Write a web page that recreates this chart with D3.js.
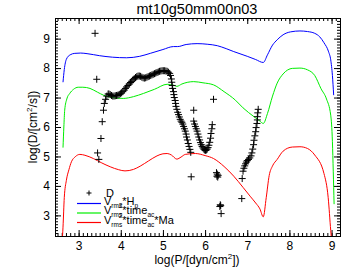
<!DOCTYPE html>
<html>
<head>
<meta charset="utf-8">
<script src="https://cdn.jsdelivr.net/npm/d3@7"></script>
<style>
  body { margin: 0; background: #fff; }
  svg { display: block; font-family: "Liberation Sans", Arial, Helvetica, sans-serif; }
  .tick text { font-size: 12px; fill: #000; }
  .tick line { stroke: #000; }
</style>
</head>
<body>
<svg id="chart" width="346" height="275"></svg>
<script>
// values: [log P, log D]
const vH = [[2.63,7.52],[2.66,7.95],[2.71,8.30],[2.80,8.45],[2.91,8.50],[3.05,8.51],[3.20,8.49],[3.50,8.42],
  [3.80,8.37],[4.14,8.35],[4.45,8.40],[4.70,8.50],[5.00,8.63],[5.25,8.73],[5.35,8.73],[5.55,8.80],[5.81,8.83],
  [6.05,8.81],[6.29,8.76],[6.50,8.66],[6.68,8.56],[7.00,8.40],[7.20,8.29],[7.38,8.19],[7.48,8.45],[7.60,8.78],
  [7.71,8.96],[7.85,9.13],[8.03,9.23],[8.25,9.26],[8.43,9.24],[8.60,9.18],[8.72,9.06],[8.82,8.86],[8.93,8.55],
  [8.98,8.28],[9.02,7.75],[9.05,7.08]];

const vTime = [[2.63,5.30],[2.65,6.00],[2.67,6.57],[2.72,6.95],[2.79,7.14],[2.88,7.28],[2.99,7.35],[3.10,7.35],
  [3.27,7.31],[3.45,7.18],[3.59,7.08],[3.80,7.00],[4.06,6.97],[4.30,7.03],[4.54,7.14],[4.80,7.28],[5.10,7.45],
  [5.25,7.42],[5.33,7.38],[5.45,7.46],[5.73,7.54],[5.95,7.50],[6.20,7.43],[6.45,7.20],[6.72,6.91],[6.90,6.65],
  [7.16,6.35],[7.30,6.20],[7.38,6.12],[7.48,6.46],[7.60,7.05],[7.71,7.49],[7.85,7.80],[8.07,7.99],[8.25,8.00],
  [8.43,7.94],[8.60,7.75],[8.75,7.30],[8.88,6.95],[8.98,6.40],[9.02,5.50],[9.04,4.50],[9.06,3.38]];

const vTimeMa = [[2.61,2.10],[2.63,2.60],[2.66,3.60],[2.71,4.19],[2.77,4.55],[2.83,4.82],[2.92,4.99],[3.03,5.07],
  [3.15,5.04],[3.35,4.93],[3.55,4.78],[3.75,4.65],[3.95,4.55],[4.10,4.51],[4.30,4.56],[4.46,4.67],[4.66,4.85],
  [4.86,5.02],[5.00,5.09],[5.10,5.10],[5.20,5.05],[5.33,4.91],[5.43,4.98],[5.53,5.07],[5.77,5.10],[6.00,5.03],
  [6.20,4.93],[6.45,4.66],[6.68,4.33],[6.90,3.95],[7.08,3.63],[7.20,3.42],[7.30,3.22],[7.38,2.95],[7.45,3.60],
  [7.52,4.35],[7.60,4.68],[7.71,4.90],[7.85,5.18],[8.07,5.32],[8.25,5.33],[8.43,5.27],[8.60,5.05],[8.82,4.42],
  [8.92,3.60],[8.98,2.49],[9.01,2.00]];

const dPoints = [
  [3.39,9.18],[3.43,7.62],[3.48,4.90],[3.45,5.12],[3.53,5.61],[3.56,6.18],[3.59,6.57],[3.61,6.80],[3.64,6.94],
  [3.67,7.05],[3.70,7.12],
  [3.72,7.12],[3.75,7.10],[3.78,7.07],[3.81,7.05],[3.84,7.05],[3.87,7.06],[3.90,7.07],[3.93,7.08],[3.96,7.10],
  [3.99,7.13],[4.02,7.16],[4.05,7.20],[4.08,7.25],[4.11,7.31],[4.14,7.36],[4.17,7.41],[4.20,7.46],[4.23,7.51],
  [4.26,7.55],[4.29,7.60],[4.32,7.64],[4.35,7.68],[4.38,7.71],[4.41,7.73],[4.44,7.73],[4.47,7.72],[4.50,7.69],
  [4.53,7.67],[4.56,7.66],[4.59,7.67],[4.62,7.69],[4.65,7.71],[4.68,7.73],[4.71,7.75],[4.74,7.77],[4.77,7.79],
  [4.80,7.81],[4.83,7.83],[4.86,7.85],[4.89,7.87],[4.92,7.89],[4.95,7.90],[4.98,7.91],[5.01,7.91],[5.04,7.91],
  [5.07,7.90],[5.10,7.89],[5.13,7.86],[5.16,7.82],[5.18,7.75],[5.20,7.63],[5.21,7.52],[5.22,7.41],[5.23,7.31],
  [5.25,7.20],[5.26,7.10],[5.27,7.00],[5.29,6.90],[5.30,6.80],[5.31,6.70],[5.33,6.60],[5.35,6.50],[5.37,6.42],
  [5.39,6.34],[5.41,6.26],[5.43,6.20],[5.45,6.16],[5.47,6.10],[5.49,6.02],[5.51,5.94],[5.53,5.86],[5.55,5.76],
  [5.56,5.66],[5.58,5.56],[5.60,5.44],[5.62,5.34],[5.64,5.24],[5.66,5.14],
  [5.73,6.57],[6.20,6.94],
  [5.73,6.20],[5.75,6.10],[5.77,6.02],[5.79,5.94],[5.81,5.86],[5.83,5.76],[5.85,5.66],[5.87,5.56],[5.89,5.47],
  [5.91,5.40],[5.93,5.34],[5.95,5.29],[5.97,5.25],[5.99,5.22],[6.01,5.21],[6.03,5.22],[6.05,5.25],[6.07,5.30],
  [6.09,5.38],[6.11,5.48],[6.13,5.62],[6.14,5.78],[6.16,5.94],[6.17,6.08],
  [5.67,4.31],[6.29,4.40],[6.28,4.33],[6.31,4.36],[6.27,4.45],[6.30,4.30],
  [6.36,3.36],[6.35,3.30],[6.37,3.33],[6.38,3.06],[6.87,3.57],
  [6.88,4.25],[6.90,4.50],[6.92,4.60],[6.94,4.68],[6.96,4.75],[6.98,4.81],[7.00,4.86],[7.03,4.90],[7.06,4.95],
  [7.09,5.02],[7.11,5.12],[7.13,5.25],[7.15,5.40],[7.16,5.55],[7.18,5.70],[7.20,5.84],[7.21,5.98],[7.23,6.12],
  [7.24,6.24],[7.24,6.35],[7.25,6.48],[7.26,6.60]];

const xMajor = [3, 4, 5, 6, 7, 8, 9];
const yMajor = [3, 4, 5, 6, 7, 8, 9];

const svg = d3.select("#chart");
const L = 55, R = 340, T = 18, B = 236;

const x = d3.scaleLinear().domain([2.44, 9.2]).range([L, R]);
const y = d3.scaleLinear().domain([2.3, 9.7]).range([B, T]);

const xMinor = d3.range(2.5, 9.21, 0.1).map(v => +v.toFixed(1));
const yMinor = d3.range(2.3, 9.71, 0.1).map(v => +v.toFixed(1));

function addAxis(axis, tx, ty) {
  const g = svg.append("g").attr("transform", `translate(${tx},${ty})`).call(axis);
  g.select(".domain").remove();
  return g;
}

// major + minor ticks on all four sides, pointing inward
addAxis(d3.axisBottom(x).tickValues(xMajor).tickSize(-6).tickPadding(5).tickFormat(d3.format("d")), 0, B);
addAxis(d3.axisBottom(x).tickValues(xMinor).tickSize(-3).tickFormat(""), 0, B);
addAxis(d3.axisTop(x).tickValues(xMajor).tickSize(-6).tickFormat(""), 0, T);
addAxis(d3.axisTop(x).tickValues(xMinor).tickSize(-3).tickFormat(""), 0, T);
addAxis(d3.axisLeft(y).tickValues(yMajor).tickSize(-6).tickPadding(5).tickFormat(d3.format("d")), L, 0);
addAxis(d3.axisLeft(y).tickValues(yMinor).tickSize(-3).tickFormat(""), L, 0);
addAxis(d3.axisRight(y).tickValues(yMajor).tickSize(-6).tickFormat(""), R, 0);
addAxis(d3.axisRight(y).tickValues(yMinor).tickSize(-3).tickFormat(""), R, 0);

svg.append("rect")
  .attr("x", L + 0.5).attr("y", T + 0.5)
  .attr("width", R - L).attr("height", B - T)
  .attr("fill", "none").attr("stroke", "#000").attr("stroke-width", 1);

svg.append("clipPath").attr("id", "plotclip")
  .append("rect").attr("x", L).attr("y", T).attr("width", R - L).attr("height", B - T);

const line = d3.line()
  .x(d => x(d[0]))
  .y(d => y(d[1]))
  .curve(d3.curveMonotoneX);

const plot = svg.append("g").attr("clip-path", "url(#plotclip)");

const curves = [
  { data: vH, color: "#0000ff" },
  { data: vTime, color: "#00ee00" },
  { data: vTimeMa, color: "#ff0000" }
];

plot.selectAll("path.curve")
  .data(curves)
  .enter()
  .append("path")
  .attr("class", "curve")
  .attr("d", d => line(d.data))
  .attr("fill", "none")
  .attr("stroke", d => d.color)
  .attr("stroke-width", 1);

const plus = "M-3.5,0H3.5M0,-3.5V3.5";
plot.selectAll("path.dpt")
  .data(dPoints)
  .enter()
  .append("path")
  .attr("class", "dpt")
  .attr("transform", d => `translate(${x(d[0])},${y(d[1])})`)
  .attr("d", plus)
  .attr("stroke", "#000")
  .attr("stroke-width", 1);

// title and axis labels
svg.append("text")
  .attr("x", 197).attr("y", 14)
  .attr("text-anchor", "middle")
  .style("font-size", "14.5px")
  .text("mt10g50mm00n03");

const xl = svg.append("text")
  .attr("x", 197).attr("y", 264)
  .attr("text-anchor", "middle")
  .style("font-size", "12px");
xl.append("tspan").text("log(P/[dyn/cm");
xl.append("tspan").attr("dy", -5).style("font-size", "8px").text("2");
xl.append("tspan").attr("dy", 5).text("])");

const yl = svg.append("text")
  .attr("transform", "translate(37,127) rotate(-90)")
  .attr("text-anchor", "middle")
  .style("font-size", "12px");
yl.append("tspan").text("log(D/[cm");
yl.append("tspan").attr("dy", -5).style("font-size", "8px").text("2");
yl.append("tspan").attr("dy", 5).text("/s])");

// legend
const leg = svg.append("g");
leg.append("path")
  .attr("transform", "translate(89,193)")
  .attr("d", "M-2.5,0H2.5M0,-2.5V2.5")
  .attr("stroke", "#000");
leg.append("text").attr("x", 106).attr("y", 197).style("font-size", "11px").text("D");

const legendRows = [
  { color: "#0000ff", y: 203.5, parts: [["V", 0], ["rms", 1], ["*H", 0], ["p", 1]] },
  { color: "#00ee00", y: 213, parts: [["V", 0], ["rms", 1], ["2", 2], ["*time", 0], ["ac", 1]] },
  { color: "#ff0000", y: 222.5, parts: [["V", 0], ["rms", 1], ["2", 2], ["*time", 0], ["ac", 1], ["*Ma", 0]] }
];

legendRows.forEach(row => {
  leg.append("line")
    .attr("x1", 77).attr("x2", 101)
    .attr("y1", row.y).attr("y2", row.y)
    .attr("stroke", row.color).attr("stroke-width", 1.2);
  const t = leg.append("text").attr("x", 104).attr("y", row.y + 1).style("font-size", "11px");
  let level = 0;
  const offs = [0, 3, -6];
  row.parts.forEach(([s, lv]) => {
    const ts = t.append("tspan").text(s).attr("dy", offs[lv] - offs[level]);
    if (lv > 0) ts.style("font-size", "6.5px");
    if (lv === 2) ts.attr("dx", -3.5);
    level = lv;
  });
});
</script>
</body>
</html>
